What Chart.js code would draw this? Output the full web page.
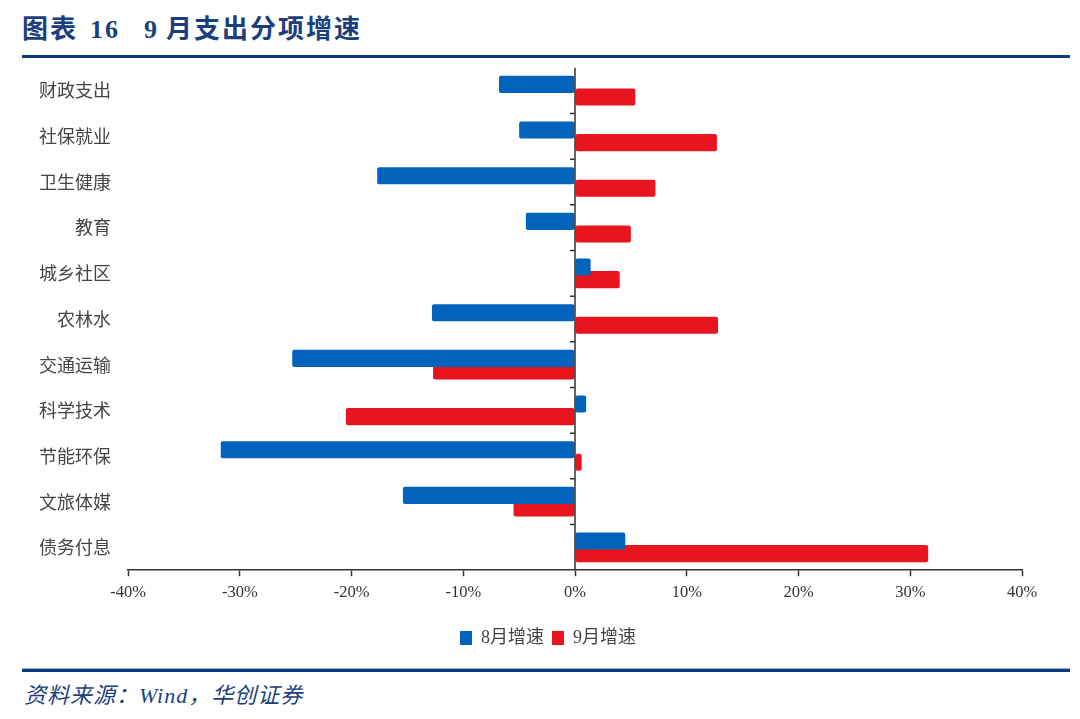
<!DOCTYPE html>
<html>
<head>
<meta charset="utf-8">
<script src="https://cdn.jsdelivr.net/npm/chart.js@4.4.1/dist/chart.umd.min.js"></script>
<style>
  body { margin: 0; width: 1080px; height: 719px; background: #fff; position: relative; overflow: hidden; }
  #titulo { position: absolute; left: 22px; top: 8px; font: bold 26px "Liberation Serif", "Noto Sans CJK SC"; color: #1B3F7C; letter-spacing: 2px; white-space: pre; }
  #lineaTop { position: absolute; left: 22px; top: 55px; width: 1048px; height: 3px; background: #0B3C80; }
  #caja { position: absolute; left: 0; top: 48px; width: 1080px; height: 617px; }
  #lineaBot { position: absolute; left: 22px; top: 668px; width: 1048px; height: 3px; background: #0B3C80; border-top: 1px solid #9DB3D3; }
  #fuente { position: absolute; left: 24px; top: 677px; font: italic 22px "Liberation Serif", "Noto Sans CJK SC"; color: #1B3F7C; letter-spacing: 1px; }
</style>
</head>
<body>
<div id="titulo"><span>图表</span><span style="margin-left:12px">16</span><span style="margin-left:24px">9</span><span style="margin-left:7px">月支出分项增速</span></div>
<div id="lineaTop"></div>
<div id="caja"><canvas id="barChart"></canvas></div>
<div id="lineaBot"></div>
<div id="fuente">资料来源：Wind，华创证券</div>
<script>
// Datos
const categorias = ["财政支出", "社保就业", "卫生健康", "教育", "城乡社区", "农林水", "交通运输", "科学技术", "节能环保", "文旅体媒", "债务付息"];
const agosto = [-6.8, -5.0, -17.7, -4.4, 1.4, -12.8, -25.3, 1.0, -31.7, -15.4, 4.5];
const septiembre = [5.4, 12.7, 7.2, 5.0, 4.0, 12.8, -12.7, -20.5, 0.6, -5.5, 31.6];
const ticksX = [-40, -30, -20, -10, 0, 10, 20, 30, 40];

// Linea del cero y marcas entre categorias
const lineaCero = {
  id: "lineaCero",
  afterLayout(chart) {
    // la leyenda va algo más a la derecha, como en el original
    chart.legend.left += 37;
    chart.legend.right += 37;
  },
  afterDatasetsDraw(chart) {
    const { ctx, chartArea, scales: { x, y } } = chart;
    const x0 = x.getPixelForValue(0);
    ctx.save();
    ctx.strokeStyle = "#333";
    ctx.lineWidth = 1.5;
    ctx.beginPath();
    ctx.moveTo(x0, chartArea.top);
    ctx.lineTo(x0, chartArea.bottom);
    for (let i = 1; i < categorias.length; i++) {
      const yb = (y.getPixelForValue(i - 1) + y.getPixelForValue(i)) / 2;
      ctx.moveTo(x0 - 5, yb);
      ctx.lineTo(x0, yb);
    }
    ctx.stroke();
    ctx.restore();
  }
};

new Chart(document.getElementById("barChart"), {
  type: "bar",
  data: {
    labels: categorias,
    datasets: [
      {
        label: "8月增速",
        data: agosto,
        backgroundColor: "#0263BD",
        borderRadius: 2,
        borderSkipped: false,
        categoryPercentage: 0.55,
        barPercentage: 1.36
      },
      {
        label: "9月增速",
        data: septiembre,
        backgroundColor: "#E8141E",
        borderRadius: 2,
        borderSkipped: false,
        categoryPercentage: 0.55,
        barPercentage: 1.36
      }
    ]
  },
  options: {
    indexAxis: "y",
    responsive: true,
    maintainAspectRatio: false,
    animation: false,
    layout: { padding: { top: 8, right: 58, bottom: 8, left: 0 } },
    plugins: {
      legend: {
        position: "bottom",
        labels: {
          boxWidth: 12,
          boxHeight: 14,
          padding: 8,
          color: "#444",
          font: { size: 18, family: "'Liberation Serif', 'Noto Sans CJK SC'" }
        }
      },
      tooltip: { enabled: false }
    },
    scales: {
      x: {
        min: -40,
        max: 40,
        afterBuildTicks: (scale) => { scale.ticks = ticksX.map(v => ({ value: v })); },
        afterFit: (scale) => { scale.height += 11; },
        ticks: {
          callback: (v) => v + "%",
          color: "#333",
          padding: 7,
          font: { size: 16.5, family: "'Liberation Serif'" }
        },
        grid: { drawOnChartArea: false, drawTicks: true, tickLength: 6, tickColor: "#333", tickWidth: 1.5 },
        border: { display: true, color: "#333", width: 1.5 }
      },
      y: {
        afterFit: (scale) => { scale.width = 128; },
        ticks: {
          color: "#444",
          padding: 9,
          font: { size: 18, family: "'Noto Sans CJK SC'" }
        },
        grid: { display: false },
        border: { display: false }
      }
    }
  },
  plugins: [lineaCero]
});
</script>
</body>
</html>
